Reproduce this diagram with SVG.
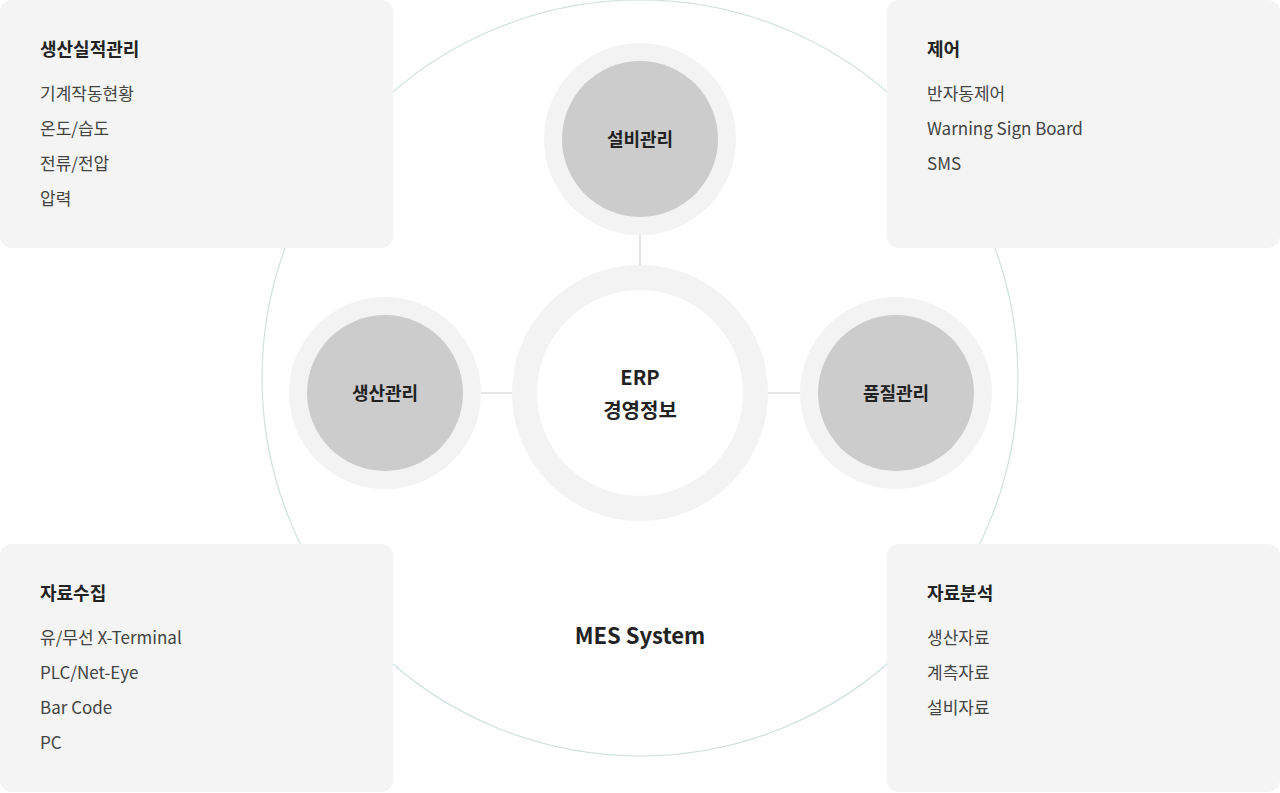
<svg xmlns="http://www.w3.org/2000/svg" width="1280" height="793" viewBox="0 0 1280 793">
<style>
text{font-family:"Noto Sans CJK KR","Noto Sans",sans-serif;fill:#333}
.box{fill:#f4f4f4}
.t{font-size:18px;font-weight:700;fill:#222}
.i{font-size:17px;fill:#444}
.ring{fill:#fff;stroke:#f3f3f3}
.g{fill:#cccccc}
.c{font-size:18px;font-weight:700;text-anchor:middle;fill:#222}
.con line{stroke:#dcdcdc;stroke-width:1.5}
</style>
<rect width="1280" height="793" fill="#fff"/>
<circle cx="640" cy="378" r="378" fill="none" stroke="#cfe0df" stroke-width="1.2"/>
<g class="con">
<line x1="640" y1="235" x2="640" y2="268"/>
<line x1="481" y1="393" x2="512" y2="393"/>
<line x1="768" y1="393" x2="800" y2="393"/>
</g>
<g id="box-tl"><rect class="box" x="0" y="0" width="393" height="248" rx="12"/>
<text class="t" x="40" y="56">생산실적관리</text>
<text class="i" x="40" y="100">기계작동현황</text><text class="i" x="40" y="135">온도/습도</text><text class="i" x="40" y="170">전류/전압</text><text class="i" x="40" y="205">압력</text></g>
<g id="box-tr"><rect class="box" x="887" y="0" width="393" height="248" rx="12"/>
<text class="t" x="927" y="56">제어</text>
<text class="i" x="927" y="100">반자동제어</text><text class="i" x="927" y="135">Warning Sign Board</text><text class="i" x="927" y="170">SMS</text></g>
<g id="box-bl"><rect class="box" x="0" y="544" width="393" height="248" rx="12"/>
<text class="t" x="40" y="600">자료수집</text>
<text class="i" x="40" y="644">유/무선 X-Terminal</text><text class="i" x="40" y="679">PLC/Net-Eye</text><text class="i" x="40" y="714">Bar Code</text><text class="i" x="40" y="749">PC</text></g>
<g id="box-br"><rect class="box" x="887" y="544" width="393" height="248" rx="12"/>
<text class="t" x="927" y="600">자료분석</text>
<text class="i" x="927" y="644">생산자료</text><text class="i" x="927" y="679">계측자료</text><text class="i" x="927" y="714">설비자료</text></g>
<g id="erp"><circle class="ring" cx="640" cy="393" r="115.5" stroke-width="25"/>
<text class="c" x="640" y="385" style="font-size:20px">ERP</text><text class="c" x="640" y="418" style="font-size:20px">경영정보</text></g>
<g id="n-top"><circle cx="640" cy="139" r="96" fill="#f3f3f3"/><circle class="g" cx="640" cy="139" r="78"/><text class="c" x="640" y="146">설비관리</text></g>
<g id="n-left"><circle cx="385" cy="393" r="96" fill="#f3f3f3"/><circle class="g" cx="385" cy="393" r="78"/><text class="c" x="385" y="400">생산관리</text></g>
<g id="n-right"><circle cx="896" cy="393" r="96" fill="#f3f3f3"/><circle class="g" cx="896" cy="393" r="78"/><text class="c" x="896" y="400">품질관리</text></g>
<text id="mes" class="c" x="640" y="644" style="font-size:22px">MES System</text>
</svg>
